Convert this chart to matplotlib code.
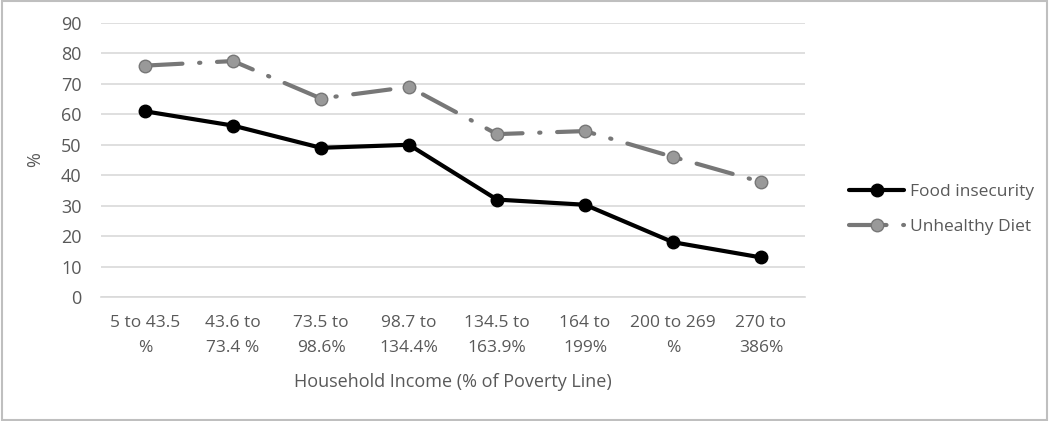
import matplotlib.pyplot as plt
from matplotlib.patches import Rectangle

categories = ["5 to 43.5\n%", "43.6 to\n73.4 %", "73.5 to\n98.6%", "98.7 to\n134.4%",
              "134.5 to\n163.9%", "164 to\n199%", "200 to 269\n%", "270 to\n386%"]
food_insecurity = [61, 56.3, 49, 50, 32, 30.3, 18, 13]
unhealthy_diet = [76, 77.5, 65.2, 69, 53.5, 54.5, 46, 37.8]
yticks = list(range(0, 100, 10))

plt.rcParams['font.family'] = ['Open Sans', 'DejaVu Sans']
text_color = '#595959'

fig = plt.figure(figsize=(10.5, 4.21), dpi=100)
ax = fig.add_axes([101 / 1050, 1 - 297 / 421, 704 / 1050, 274 / 421])

x = list(range(len(categories)))
ax.plot(x, food_insecurity, color='black', linewidth=3, marker='o', markersize=9,
        label='Food insecurity', solid_capstyle='round', zorder=3)
ax.plot(x, unhealthy_diet, color='#777777', linewidth=3, marker='o', markersize=9,
        markerfacecolor='#999999', markeredgecolor='#777777',
        linestyle=(0, (9, 4, 0.3, 4)), dash_capstyle='round',
        label='Unhealthy Diet', zorder=3)

ax.set_xlim(-0.5, len(categories) - 0.5)
ax.set_ylim(0, 90)
ax.set_yticks(yticks)
ax.set_xticks(x)
ax.set_xticklabels(categories, fontsize=12.5, color=text_color, linespacing=1.75)
ax.tick_params(axis='y', labelsize=13, labelcolor=text_color, length=0, pad=14)
ax.tick_params(axis='x', length=0, pad=13)
ax.grid(axis='y', color='#d9d9d9', linewidth=1.2)
ax.set_axisbelow(True)
for s in ['top', 'right', 'left']:
    ax.spines[s].set_visible(False)
ax.spines['bottom'].set_color('#d9d9d9')
ax.spines['bottom'].set_linewidth(1.2)

ax.set_xlabel('Household Income (% of Poverty Line)', fontsize=13, color=text_color, labelpad=12)
ax.set_ylabel('%', fontsize=13, color=text_color, labelpad=12)

leg = ax.legend(loc='center left', bbox_to_anchor=(1.04, 0.32), frameon=False,
                fontsize=12.5, labelcolor=text_color, handlelength=3.2,
                handletextpad=0.3, labelspacing=1.1)

fig.patches.append(Rectangle((0.002, 0.003), 0.995, 0.994, transform=fig.transFigure,
                             fill=False, edgecolor='#bfbfbf', linewidth=1.5))

fig.savefig('out.png', dpi=100, facecolor='white')
